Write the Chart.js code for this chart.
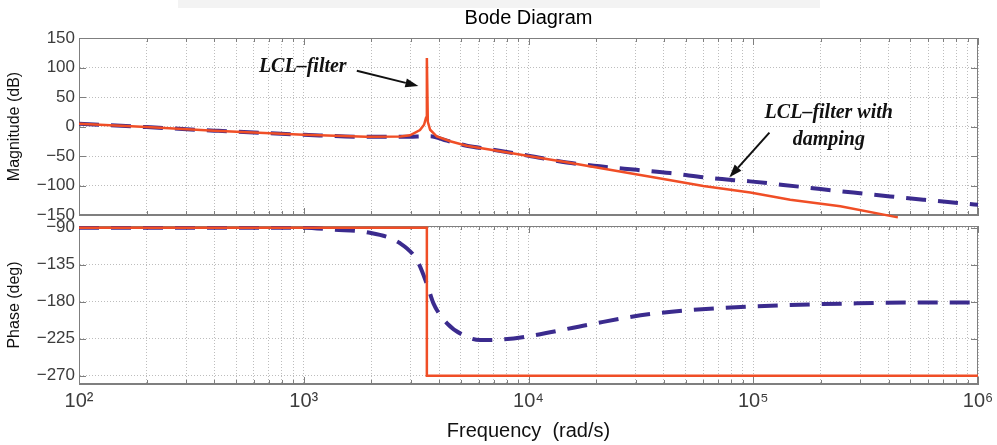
<!DOCTYPE html>
<html>
<head>
<meta charset="utf-8">
<script src="https://cdn.jsdelivr.net/npm/chart.js@4.4.0/dist/chart.umd.min.js"></script>
<style>
  html, body { margin: 0; padding: 0; background: #fff; }
  #wrap { position: relative; width: 997px; height: 445px; }
  #band { position: absolute; left: 178px; top: 0; width: 642px; height: 8px; background: #f3f3f3; }
  .box { position: absolute; left: 0; width: 997px; }
  #magBox { top: 0; height: 222px; }
  #phaseBox { top: 212px; height: 233px; }
</style>
</head>
<body>
<div id="wrap">
  <div id="band"></div>
  <div class="box" id="magBox"><canvas id="magChart"></canvas></div>
  <div class="box" id="phaseBox"><canvas id="phaseChart"></canvas></div>
</div>
<script>
// magnitude, LCL-filter (undamped)
const lclMagFreq = [100, 200, 400, 1000, 1900, 2700, 2970, 3290, 3430, 3500, 3530, 3565, 3650, 3910, 4480, 5310, 6090, 7480, 10000, 15000, 22000, 37000, 60000, 97000, 146000, 244000, 440000];
const lclMag = [4.5, -1, -7, -14, -17.5, -17, -15, -6, 3, 15, 116, 8, -5.5, -17, -25, -32.5, -36.5, -42, -50, -61, -72, -87, -101, -112, -124, -135, -154];

// magnitude, LCL-filter with damping
const dampMagFreq = [100, 200, 400, 1000, 1900, 2700, 3200, 3650, 4330, 5310, 6750, 10000, 14800, 20800, 30300, 42700, 64300, 96800, 136000, 199000, 279000, 407000, 571000, 893000, 1000000];
const dampMag = [4.5, -1, -7, -14, -17.5, -17.5, -17, -16.5, -24, -32.5, -38.5, -49.5, -61, -67.5, -73.5, -79, -87.5, -93, -99, -106, -112, -118.5, -124, -131, -132.5];

// phase
const lclPhaseFreq = [100, 3530, 3530, 1000000];
const lclPhase = [-90, -90, -270, -270];
const dampPhaseFreq = [100, 1000, 1355, 1905, 2685, 3186, 3526, 3776, 4328, 5309, 6092, 7480, 10000, 18800, 34750, 73800, 146000, 289000, 571000, 1000000];
const dampPhase = [-90, -90, -92.5, -95.5, -109, -129.5, -158, -182, -206, -222.5, -226.5, -226, -222, -207.5, -195, -187.5, -184, -182, -181, -181];

const magTicks = [150, 100, 50, 0, -50, -100, -150];
const phaseTicks = [-90, -135, -180, -225, -270];
const decades = [2, 3, 4, 5, 6];

const RED = '#f04e26';
const BLUE = '#3b2b8e';
const GRID = '#bdbdbd';
const FRAME = '#7f7f7f';
const sup = { 2: '\u00b2', 3: '\u00b3', 4: '\u2074', 5: '\u2075', 6: '\u2076' };

Chart.defaults.font.family = '"Liberation Sans", Arial, Helvetica, sans-serif';

const pts = (xs, ys) => xs.map((x, i) => ({ x: x, y: ys[i] }));
const minus = (v) => String(v).replace('-', '\u2212');

// grid positions 1..9 x 10^n
const gridFreqs = [];
decades.forEach((e, i) => {
  if (i === decades.length - 1) { gridFreqs.push(Math.pow(10, e)); return; }
  for (let k = 1; k <= 9; k++) gridFreqs.push(Number((k * Math.pow(10, e)).toPrecision(3)));
});
const isDecade = (v) => Math.abs(Math.log10(v) - Math.round(Math.log10(v))) < 1e-9;

function noPad(axis) {
  axis.paddingTop = 0;
  axis.paddingBottom = 0;
  axis.paddingLeft = 0;
  axis.paddingRight = 0;
}

function freqAxis(showLabels) {
  return {
    type: 'logarithmic',
    min: 100,
    max: 1e6,
    afterBuildTicks: (axis) => { axis.ticks = gridFreqs.map(v => ({ value: v })); },
    afterFit: (axis) => { axis.height = showLabels ? 61 : 7; noPad(axis); },
    grid: { color: GRID, drawTicks: false },
    border: { color: FRAME, dash: [1, 2] },
    ticks: {
      display: showLabels,
      autoSkip: false,
      maxRotation: 0,
      padding: 5,
      color: '#3c3c3c',
      font: { size: 20 },
      callback: (v) => isDecade(v) ? '10' + sup[Math.round(Math.log10(v))] : ''
    },
    title: {
      display: showLabels,
      text: 'Frequency  (rad/s)',
      color: '#111',
      font: { size: 20 },
      padding: { top: 0, bottom: 2 }
    }
  };
}

function valueAxis(min, max, tickList, label) {
  return {
    min: min,
    max: max,
    afterBuildTicks: (axis) => { axis.ticks = tickList.map(v => ({ value: v })); },
    afterFit: (axis) => { axis.width = 79; noPad(axis); },
    grid: { color: GRID, drawTicks: false },
    border: { color: FRAME, dash: [1, 2] },
    ticks: { padding: 4, color: '#3c3c3c', font: { size: 17 }, callback: (v) => minus(v) },
    title: { display: true, text: label, color: '#111', font: { size: 16 }, padding: { top: 5, bottom: 0 } }
  };
}

// box round the axes with small inward tick marks
const framePlugin = {
  id: 'frame',
  beforeDatasetsDraw(chart) {
    const { ctx, chartArea: a, scales } = chart;
    ctx.save();
    ctx.strokeStyle = FRAME;
    ctx.lineWidth = 1;
    ctx.strokeRect(Math.round(a.left) + 0.5, Math.round(a.top) + 0.5, Math.round(a.width) - 1, Math.round(a.height) - 1);
    ctx.beginPath();
    scales.x.ticks.forEach(t => {
      const px = Math.round(scales.x.getPixelForValue(t.value)) + 0.5;
      const len = isDecade(t.value) ? 7 : 4;
      ctx.moveTo(px, a.bottom); ctx.lineTo(px, a.bottom - len);
      ctx.moveTo(px, a.top); ctx.lineTo(px, a.top + len);
    });
    scales.y.ticks.forEach(t => {
      const py = Math.round(scales.y.getPixelForValue(t.value)) + 0.5;
      ctx.moveTo(a.left, py); ctx.lineTo(a.left + 7, py);
      ctx.moveTo(a.right, py); ctx.lineTo(a.right - 7, py);
    });
    ctx.stroke();
    ctx.restore();
  }
};

// text notes and arrows on the magnitude plot, placed in data units
const noteTexts = [
  { text: 'LCL\u2013filter', f: 990, db: 93 },
  { text: 'LCL\u2013filter with', f: 216800, db: 14 },
  { text: 'damping', f: 216800, db: -31.5 }
];
const noteArrows = [
  { from: [1722, 94.6], to: [3236, 68.6] },
  { from: [118000, -10.5], to: [78300, -86.1] }
];

const notesPlugin = {
  id: 'notes',
  afterDatasetsDraw(chart) {
    const { ctx, scales: { x, y } } = chart;
    ctx.save();
    ctx.fillStyle = '#111';
    ctx.strokeStyle = '#111';
    ctx.font = 'italic bold 20px "Liberation Serif", "Times New Roman", serif';
    ctx.textAlign = 'center';
    ctx.textBaseline = 'alphabetic';
    noteTexts.forEach(n => ctx.fillText(n.text, x.getPixelForValue(n.f), y.getPixelForValue(n.db)));
    noteArrows.forEach(ar => {
      const x0 = x.getPixelForValue(ar.from[0]), y0 = y.getPixelForValue(ar.from[1]);
      const x1 = x.getPixelForValue(ar.to[0]), y1 = y.getPixelForValue(ar.to[1]);
      const ang = Math.atan2(y1 - y0, x1 - x0);
      const hl = 13, hw = 4.5;
      const bx = x1 - hl * Math.cos(ang), by = y1 - hl * Math.sin(ang);
      ctx.lineWidth = 2;
      ctx.beginPath();
      ctx.moveTo(x0, y0);
      ctx.lineTo(bx, by);
      ctx.stroke();
      ctx.beginPath();
      ctx.moveTo(x1, y1);
      ctx.lineTo(bx + hw * Math.sin(ang), by - hw * Math.cos(ang));
      ctx.lineTo(bx - hw * Math.sin(ang), by + hw * Math.cos(ang));
      ctx.closePath();
      ctx.fill();
    });
    ctx.restore();
  }
};

const redLine = { borderColor: RED, borderWidth: 2.5, pointRadius: 0, tension: 0, fill: false };
const blueLine = { borderColor: BLUE, borderWidth: 4, borderDash: [20, 12], pointRadius: 0, cubicInterpolationMode: 'monotone', fill: false };

new Chart(document.getElementById('magChart'), {
  type: 'line',
  data: {
    datasets: [
      Object.assign({ label: 'LCL-filter', data: pts(lclMagFreq, lclMag) }, redLine, { clip: 4 }),
      Object.assign({ label: 'LCL-filter with damping', data: pts(dampMagFreq, dampMag) }, blueLine)
    ]
  },
  options: {
    responsive: true,
    maintainAspectRatio: false,
    animation: false,
    layout: { padding: { left: 0, right: 19, top: 0, bottom: 0 } },
    plugins: {
      legend: { display: false },
      tooltip: { enabled: false },
      title: {
        display: true,
        text: 'Bode Diagram',
        color: '#000',
        fullSize: false,
        font: { size: 20, weight: 'normal' },
        padding: { top: 6, bottom: 8 }
      }
    },
    scales: {
      x: freqAxis(false),
      y: valueAxis(-150, 150, magTicks, 'Magnitude (dB)')
    }
  },
  plugins: [framePlugin, notesPlugin]
});

new Chart(document.getElementById('phaseChart'), {
  type: 'line',
  data: {
    datasets: [
      Object.assign({ label: 'LCL-filter', data: pts(lclPhaseFreq, lclPhase) }, redLine),
      Object.assign({ label: 'LCL-filter with damping', data: pts(dampPhaseFreq, dampPhase) }, blueLine)
    ]
  },
  options: {
    responsive: true,
    maintainAspectRatio: false,
    animation: false,
    layout: { padding: { left: 0, right: 19, top: 14, bottom: 0 } },
    plugins: {
      legend: { display: false },
      tooltip: { enabled: false }
    },
    scales: {
      x: freqAxis(true),
      y: valueAxis(-280, -88, phaseTicks, 'Phase (deg)')
    }
  },
  plugins: [framePlugin]
});
</script>
</body>
</html>
